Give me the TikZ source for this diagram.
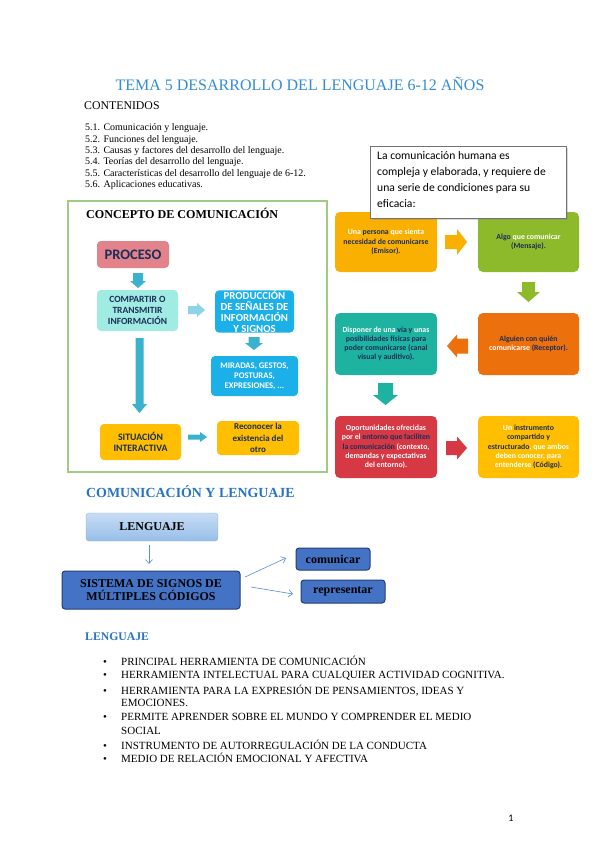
\documentclass[tikz,border=0pt]{standalone}
\usepackage{fontspec}
\setmainfont{Liberation Serif}
\newfontfamily\carl{Carlito}
\usetikzlibrary{arrows.meta,shadows}
\definecolor{titleblue}{RGB}{52,140,212}
\definecolor{headblue}{RGB}{40,116,196}
\definecolor{amberc}{RGB}{250,176,0}
\definecolor{yellowc}{RGB}{255,190,0}
\definecolor{orangec}{RGB}{236,112,12}
\definecolor{greenc}{RGB}{140,186,42}
\definecolor{tealc}{RGB}{30,178,160}
\definecolor{redc}{RGB}{214,56,68}
\definecolor{dtext}{RGB}{28,46,90}
\definecolor{pinkc}{RGB}{226,130,138}
\definecolor{aquac}{RGB}{160,236,226}
\definecolor{skyc}{RGB}{28,176,232}
\definecolor{arrteal}{RGB}{58,178,206}
\definecolor{arrlight}{RGB}{140,212,230}
\definecolor{framegreen}{RGB}{160,204,130}
\definecolor{lbluetop}{RGB}{200,220,244}
\definecolor{lbluebot}{RGB}{150,190,232}
\definecolor{lblueborder}{RGB}{140,178,226}
\definecolor{mblue}{RGB}{68,114,196}
\definecolor{dblue}{RGB}{36,62,118}
\definecolor{arrblue}{RGB}{90,140,215}
\newcommand{\W}[1]{\textcolor{white}{#1}}
% block arrow: name, cx, cy, rotation, length, shaft, head width, head length, colour
\newcommand{\barw}[9]{%
  \begin{scope}[shift={(#2,#3)},rotate=#4]
    \fill[#9] (-#5/2,-#6/2) -- (#5/2-#8,-#6/2) -- (#5/2-#8,-#7/2) -- (#5/2,0)
      -- (#5/2-#8,#7/2) -- (#5/2-#8,#6/2) -- (-#5/2,#6/2) -- cycle;
    \coordinate (#1) at (0,0);
  \end{scope}}
\begin{document}
\begin{tikzpicture}[x=1pt,y=-1pt,
  cbox/.style={rounded corners=5pt,inner sep=1pt,align=center,font=\carl\bfseries\fontsize{7.8}{9.4}\selectfont,text=dtext},
  lbox/.style={rounded corners=4pt,inner sep=0pt,align=center,text=dtext},
  sbox/.style={draw=dblue,line width=1pt,fill=mblue,rounded corners=3pt,font=\bfseries\fontsize{12}{13.5}\selectfont},
  thinarr/.style={-{Straight Barb[length=4pt,width=7pt]},draw=arrblue,line width=0.6pt}]
\useasboundingbox[fill=white] (0,0) rectangle (599,848);

% title
\node[text=titleblue,font=\fontsize{16}{18}\selectfont] (title) at (300,84) {TEMA 5 DESARROLLO DEL LENGUAJE 6-12 AÑOS};
\node[anchor=west,inner sep=0,font=\fontsize{11.8}{13}\selectfont] (cont) at (84,106) {CONTENIDOS};
\node[anchor=north west,inner sep=0,align=left,font=\fontsize{10}{11.4}\selectfont] (list) at (85,123.5)
 {5.1. Comunicación y lenguaje.\\
  5.2. Funciones del lenguaje.\\
  5.3. Causas y factores del desarrollo del lenguaje.\\
  5.4. Teorías del desarrollo del lenguaje.\\
  5.5. Características del desarrollo del lenguaje de 6-12.\\
  5.6. Aplicaciones educativas.};

% left frame
\draw[framegreen,line width=1.5pt] (68,201) rectangle (327,472);
\node[anchor=west,inner sep=0,font=\bfseries\fontsize{12.1}{13}\selectfont] (concepto) at (86,213) {CONCEPTO DE COMUNICACIÓN};
\node[lbox,fill=pinkc,minimum width=72pt,minimum height=27pt,font=\carl\bfseries\fontsize{14.5}{16}\selectfont] (proceso) at (133,254.5) {PROCESO};
\node[lbox,fill=aquac,minimum width=81pt,minimum height=41pt,font=\carl\bfseries\fontsize{9.5}{11}\selectfont] (compartir) at (137.5,310.5) {COMPARTIR O\\TRANSMITIR\\INFORMACIÓN};
\node[lbox,fill=skyc,text=white,minimum width=79pt,minimum height=41pt,font=\carl\bfseries\fontsize{10.8}{11}\selectfont] (produccion) at (254.5,311.5) {PRODUCCIÓN\\DE SEÑALES DE\\INFORMACIÓN\\Y SIGNOS};
\node[lbox,fill=skyc,text=white,minimum width=87pt,minimum height=40pt,font=\carl\bfseries\fontsize{8.6}{10}\selectfont] (miradas) at (254.5,376) {MIRADAS, GESTOS,\\POSTURAS,\\EXPRESIONES, ...};
\node[lbox,fill=yellowc,minimum width=81pt,minimum height=36pt,font=\carl\bfseries\fontsize{9.8}{11.5}\selectfont] (situacion) at (140.5,442) {SITUACIÓN\\INTERACTIVA};
\node[lbox,fill=yellowc,minimum width=82pt,minimum height=34pt,font=\carl\bfseries\fontsize{9}{11.5}\selectfont] (reconocer) at (258,438) {Reconocer la\\existencia del\\otro};
% left block arrows
\barw{a1}{138}{280.5}{-90}{15}{10}{16}{7}{arrteal}
\barw{a2}{196.5}{310}{0}{17}{8}{14}{8}{arrlight}
\barw{a3}{254}{343.5}{-90}{13}{11}{18}{7}{arrteal}
\barw{a4}{139.5}{375.5}{-90}{75}{8}{15}{9}{arrteal}
\barw{a5}{197.5}{437}{0}{19}{5}{10}{7}{arrteal}

% right flow
\node[cbox,fill=amberc,minimum width=102pt,minimum height=60pt] (emisor) at (386,242) {\W{Una} persona \W{que sienta}\\necesidad de comunicarse\\(Emisor).};
\node[cbox,fill=greenc,minimum width=101pt,minimum height=60pt] (mensaje) at (528.5,242) {Algo \W{que comunicar}\\(Mensaje).};
\node[cbox,fill=orangec,minimum width=101pt,minimum height=62pt] (receptor) at (528.5,344) {Alguien con quién\\\W{comunicarse} (Receptor).};
\node[cbox,fill=tealc,minimum width=102pt,minimum height=62pt,font=\carl\bfseries\fontsize{7.8}{9}\selectfont] (canal) at (386,344) {\W{Disponer de una} vía y \W{unas}\\posibilidades físicas para\\poder comunicarse (canal\\visual y auditivo).};
\node[cbox,fill=redc,minimum width=102pt,minimum height=62pt,font=\carl\bfseries\fontsize{7.8}{9.3}\selectfont] (entorno) at (386,447) {\W{Oportunidades ofrecidas}\\\W{por el} entorno que faciliten\\la comunicación \W{(contexto,}\\\W{demandas y expectativas}\\\W{del entorno).}};
\node[cbox,fill=yellowc,minimum width=101pt,minimum height=62pt,font=\carl\bfseries\fontsize{7.8}{9.3}\selectfont] (codigo) at (528.5,447) {\W{Un} instrumento\\compartido y\\estructurado\W{, que ambos}\\\W{deben conocer, para}\\\W{entenderse} (Código).};
\barw{r1}{456}{242}{0}{22}{14}{26}{10}{amberc}
\barw{r2}{528.5}{292}{-90}{20}{13}{23}{10}{greenc}
\barw{r3}{457.5}{346}{180}{21}{15}{23}{10}{orangec}
\barw{r4}{385.5}{394}{-90}{22}{15}{25}{10}{tealc}
\barw{r5}{456.5}{448}{0}{21}{14}{23}{10}{redc}
% callout box
\node[draw=black!55,line width=1.2pt,fill=white,anchor=north west,inner sep=0pt,minimum width=196pt,minimum height=72pt,
  drop shadow={shadow xshift=1pt,shadow yshift=-1pt,opacity=0.3}] (callout) at (370,146) {};
\node[anchor=north west,align=left,inner sep=0pt,font=\carl\fontsize{11.6}{16.2}\selectfont] (callt) at (377,151)
 {La comunicación humana es\\compleja y elaborada, y requiere de\\una serie de condiciones para su\\eficacia:};

% comunicacion y lenguaje
\node[anchor=west,inner sep=0,text=headblue,font=\bfseries\fontsize{13.9}{15}\selectfont] (cyl) at (86,492) {COMUNICACIÓN Y LENGUAJE};
\node[draw=lblueborder,top color=lbluetop,bottom color=lbluebot,rounded corners=3pt,minimum width=132pt,minimum height=28pt,font=\bfseries\fontsize{12}{13}\selectfont] (leng) at (152,527) {LENGUAJE};
\node[sbox,minimum width=178pt,minimum height=38pt,align=center] (sistema) at (151,590) {SISTEMA DE SIGNOS DE\\MÚLTIPLES CÓDIGOS};
\node[sbox,minimum width=74pt,minimum height=22pt] (comunicar) at (333,559) {comunicar};
\node[sbox,minimum width=84pt,minimum height=23pt] (representar) at (343,591.5) {representar};
\coordinate (l1) at (149,545);
\coordinate (l2) at (149,564);
\coordinate (s1) at (245,577);
\coordinate (c1) at (286,558);
\coordinate (s2) at (251,587);
\coordinate (c2) at (293,594);
\draw[thinarr] (l1) -- (l2);
\draw[thinarr] (s1) -- (c1);
\draw[thinarr] (s2) -- (c2);

% lenguaje list
\node[anchor=west,inner sep=0,text=headblue,font=\bfseries\fontsize{11.7}{13}\selectfont] (lenh) at (85,637) {LENGUAJE};
\begin{scope}[every node/.style={anchor=base west,inner sep=0,font=\fontsize{11}{12}\selectfont}]
\node (b1) at (103,665.8) {\textbullet};
\node (t1) at (121,665.8) {PRINCIPAL HERRAMIENTA DE COMUNICACIÓN};
\node (b2) at (103,678.8) {\textbullet};
\node (t2) at (121,678.8) {HERRAMIENTA INTELECTUAL PARA CUALQUIER ACTIVIDAD COGNITIVA.};
\node (b3) at (103,694.8) {\textbullet};
\node (t3) at (121,694.8) {HERRAMIENTA PARA LA EXPRESIÓN DE PENSAMIENTOS, IDEAS Y};
\node (t3b) at (121,706.8) {EMOCIONES.};
\node (b4) at (103,720.8) {\textbullet};
\node (t4) at (121,720.8) {PERMITE APRENDER SOBRE EL MUNDO Y COMPRENDER EL MEDIO};
\node (t4b) at (121,734.8) {SOCIAL};
\node (b5) at (103,749.8) {\textbullet};
\node (t5) at (121,749.8) {INSTRUMENTO DE AUTORREGULACIÓN DE LA CONDUCTA};
\node (b6) at (103,762.8) {\textbullet};
\node (t6) at (121,762.8) {MEDIO DE RELACIÓN EMOCIONAL Y AFECTIVA};
\end{scope}
\node[font=\carl\fontsize{10}{12}\selectfont] (pnum) at (511,818) {1};
\end{tikzpicture}
\end{document}
